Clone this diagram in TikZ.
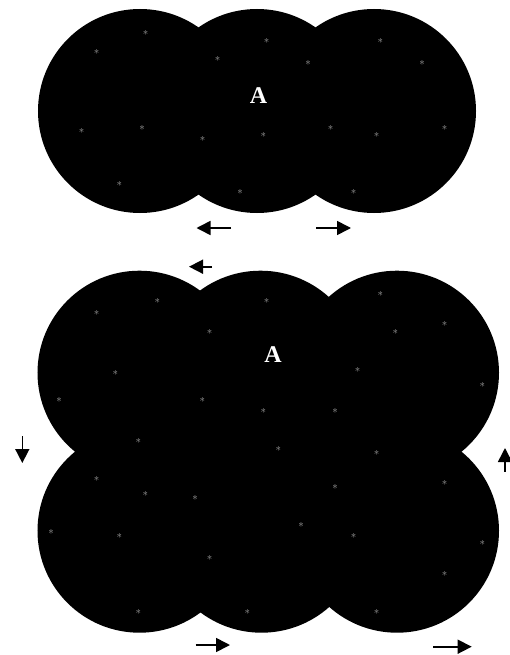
\documentclass[tikz,border=0pt]{standalone}
\usepackage{fontspec}
\setmainfont{Liberation Serif}
\usetikzlibrary{arrows.meta}

\begin{document}
\begin{tikzpicture}[x=1bp, y=1bp, line cap=round, line join=round,
  disc/.style={circle, fill=black, inner sep=0pt, outer sep=0pt, minimum size=204bp},
  speck/.style={inner sep=0pt, outer sep=0pt, text=black!35, font=\fontsize{11bp}{11bp}\selectfont},
  label/.style={inner sep=0pt, outer sep=0pt, text=white, font=\fontsize{24bp}{28bp}\selectfont\bfseries},
  move/.style={draw=black, line width=1.6bp, line cap=butt, -{Triangle[length=14bp, width=14bp]}}]
  \useasboundingbox (0,0) rectangle (510,-655);
  % upper cluster
  \node[disc] (u1) at (140,-111) {};
  \node[disc] (u2) at (257,-111) {};
  \node[disc] (u3) at (374,-111) {};
  % lower cluster
  \node[disc] (p1) at (139.5,-372.7) {};
  \node[disc] (p2) at (260.5,-372.7) {};
  \node[disc] (p3) at (397,-372.7) {};
  \node[disc] (q1) at (139.5,-530.7) {};
  \node[disc] (q2) at (261.5,-530.7) {};
  \node[disc] (q3) at (397,-530.7) {};
  \path[fill=black] (p1.center) rectangle (q3.center);
  \node[label] (ua) at (258.5,-96) {A};
  \node[label] (pa) at (273,-355) {A};
  % specks, upper
  \node[speck] (s1) at (145.7,-32.7) {$\ast$};
  \node[speck] (s2) at (96.7,-51.7) {$\ast$};
  \node[speck] (s3) at (266.7,-40.7) {$\ast$};
  \node[speck] (s4) at (217.7,-58.7) {$\ast$};
  \node[speck] (s5) at (308,-62.7) {$\ast$};
  \node[speck] (s6) at (380.3,-40.7) {$\ast$};
  \node[speck] (s7) at (422,-62.7) {$\ast$};
  \node[speck] (s8) at (81.7,-130.7) {$\ast$};
  \node[speck] (s9) at (142,-127.7) {$\ast$};
  \node[speck] (s10) at (202.7,-138.7) {$\ast$};
  \node[speck] (s11) at (263.3,-134.7) {$\ast$};
  \node[speck] (s12) at (330.7,-127.7) {$\ast$};
  \node[speck] (s13) at (376.7,-134.7) {$\ast$};
  \node[speck] (s14) at (444.7,-127.7) {$\ast$};
  \node[speck] (s15) at (119.3,-183.7) {$\ast$};
  \node[speck] (s16) at (240,-191.7) {$\ast$};
  \node[speck] (s17) at (353.7,-191.7) {$\ast$};
  % specks, lower
  \node[speck] (t1) at (157.3,-300.7) {$\ast$};
  \node[speck] (t2) at (96.7,-312.7) {$\ast$};
  \node[speck] (t3) at (266.7,-300.7) {$\ast$};
  \node[speck] (t4) at (380.3,-293.7) {$\ast$};
  \node[speck] (t5) at (209.7,-331.7) {$\ast$};
  \node[speck] (t6) at (395.3,-331.7) {$\ast$};
  \node[speck] (t7) at (444.7,-323.7) {$\ast$};
  \node[speck] (t8) at (115.3,-372.7) {$\ast$};
  \node[speck] (t9) at (357.7,-369.7) {$\ast$};
  \node[speck] (t10) at (482.3,-384.7) {$\ast$};
  \node[speck] (t11) at (59,-399.7) {$\ast$};
  \node[speck] (t12) at (202.3,-399.7) {$\ast$};
  \node[speck] (t13) at (263.3,-410.7) {$\ast$};
  \node[speck] (t14) at (335,-410.7) {$\ast$};
  \node[speck] (t15) at (138.3,-440.5) {$\ast$};
  \node[speck] (t16) at (278.3,-448.7) {$\ast$};
  \node[speck] (t17) at (376.7,-452.7) {$\ast$};
  \node[speck] (t18) at (96.7,-478.7) {$\ast$};
  \node[speck] (t19) at (145.3,-493.7) {$\ast$};
  \node[speck] (t20) at (195,-497.7) {$\ast$};
  \node[speck] (t21) at (335,-486.7) {$\ast$};
  \node[speck] (t22) at (444.7,-482.7) {$\ast$};
  \node[speck] (t23) at (51,-531.7) {$\ast$};
  \node[speck] (t24) at (119.3,-535.7) {$\ast$};
  \node[speck] (t25) at (301,-524.7) {$\ast$};
  \node[speck] (t26) at (353.7,-535.7) {$\ast$};
  \node[speck] (t27) at (482.3,-542.7) {$\ast$};
  \node[speck] (t28) at (209.7,-557.7) {$\ast$};
  \node[speck] (t29) at (444.7,-573.7) {$\ast$};
  \node[speck] (t30) at (138.3,-611.7) {$\ast$};
  \node[speck] (t31) at (247.3,-611.7) {$\ast$};
  \node[speck] (t32) at (376.7,-611.7) {$\ast$};
  % arrows
  \coordinate (a1s) at (231,-228);   \coordinate (a1e) at (196.5,-228);
  \coordinate (a2s) at (316,-228);   \coordinate (a2e) at (351,-228);
  \coordinate (a3s) at (212,-266.7); \coordinate (a3e) at (189,-266.7);
  \coordinate (a4s) at (22.3,-436);  \coordinate (a4e) at (22.3,-463);
  \coordinate (a5s) at (505,-471.7); \coordinate (a5e) at (505,-448);
  \coordinate (a6s) at (195.7,-645); \coordinate (a6e) at (230,-645);
  \coordinate (a7s) at (433,-646.7); \coordinate (a7e) at (471.7,-646.7);
  \path[move] (a1s) -- (a1e);
  \path[move] (a2s) -- (a2e);
  \path[move] (a3s) -- (a3e);
  \path[move] (a4s) -- (a4e);
  \path[move] (a5s) -- (a5e);
  \path[move] (a6s) -- (a6e);
  \path[move] (a7s) -- (a7e);
\end{tikzpicture}
\end{document}
